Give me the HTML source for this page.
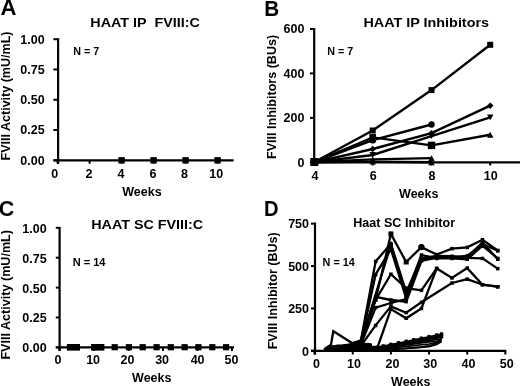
<!DOCTYPE html>
<html><head><meta charset="utf-8"><style>
html,body{margin:0;padding:0;background:#fff;width:520px;height:386px;overflow:hidden}
svg{display:block}
text{font-family:"Liberation Sans", sans-serif;font-weight:bold;fill:#000;stroke:none}
</style></head><body>
<svg style="filter:grayscale(1)" width="520" height="386" viewBox="0 0 520 386" stroke="#000" fill="#000" stroke-linecap="butt">
<text x="0.6" y="14.8" font-size="21.5" textLength="16.0" lengthAdjust="spacingAndGlyphs">A</text><text x="90.3" y="27.3" font-size="13" textLength="109.5" lengthAdjust="spacingAndGlyphs">HAAT IP&#160;&#160;FVIII:C</text><text transform="translate(10.3,160.5) rotate(-90)" font-size="12.5" textLength="129" lengthAdjust="spacingAndGlyphs">FVIII Activity (mU/mL)</text><line x1="58.1" y1="38.2" x2="58.1" y2="164.0" stroke-width="2.2"/><line x1="53.4" y1="160.3" x2="58.1" y2="160.3" stroke-width="2"/><line x1="53.4" y1="130.025" x2="58.1" y2="130.025" stroke-width="2"/><line x1="53.4" y1="99.75000000000001" x2="58.1" y2="99.75000000000001" stroke-width="2"/><line x1="53.4" y1="69.47500000000002" x2="58.1" y2="69.47500000000002" stroke-width="2"/><line x1="53.4" y1="39.20000000000002" x2="58.1" y2="39.20000000000002" stroke-width="2"/><text x="44.6" y="43.600000000000016" font-size="12.5" text-anchor="end">1.00</text><text x="44.6" y="73.87500000000003" font-size="12.5" text-anchor="end">0.75</text><text x="44.6" y="104.15000000000002" font-size="12.5" text-anchor="end">0.50</text><text x="44.6" y="134.425" font-size="12.5" text-anchor="end">0.25</text><text x="44.6" y="164.70000000000002" font-size="12.5" text-anchor="end">0.00</text><line x1="53.4" y1="160.3" x2="233.6" y2="160.3" stroke-width="2.2"/><line x1="57.6" y1="160.3" x2="57.6" y2="163.7" stroke-width="2"/><line x1="89.6" y1="160.3" x2="89.6" y2="163.7" stroke-width="2"/><line x1="121.6" y1="160.3" x2="121.6" y2="163.7" stroke-width="2"/><line x1="153.6" y1="160.3" x2="153.6" y2="163.7" stroke-width="2"/><line x1="185.6" y1="160.3" x2="185.6" y2="163.7" stroke-width="2"/><line x1="217.6" y1="160.3" x2="217.6" y2="163.7" stroke-width="2"/><text x="54.8" y="177.5" font-size="12.5" text-anchor="middle">0</text><text x="89" y="177.5" font-size="12.5" text-anchor="middle">2</text><text x="120.9" y="177.5" font-size="12.5" text-anchor="middle">4</text><text x="153.1" y="177.5" font-size="12.5" text-anchor="middle">6</text><text x="184.6" y="177.5" font-size="12.5" text-anchor="middle">8</text><text x="216.2" y="177.5" font-size="12.5" text-anchor="middle">10</text><text x="73.3" y="55.0" font-size="10" textLength="26.0" lengthAdjust="spacingAndGlyphs">N = 7</text><text x="142" y="195.8" font-size="12.5" text-anchor="middle">Weeks</text><rect x="118.4" y="157.1" width="6.4" height="6.4" stroke="none"/><rect x="150.4" y="157.1" width="6.4" height="6.4" stroke="none"/><rect x="182.4" y="157.1" width="6.4" height="6.4" stroke="none"/><rect x="214.4" y="157.1" width="6.4" height="6.4" stroke="none"/><text x="264.3" y="15.5" font-size="21.5" textLength="15.0" lengthAdjust="spacingAndGlyphs">B</text><text x="363.5" y="26.6" font-size="13" textLength="125.5" lengthAdjust="spacingAndGlyphs">HAAT IP Inhibitors</text><text transform="translate(275.6,158.9) rotate(-90)" font-size="12.5" textLength="124" lengthAdjust="spacingAndGlyphs">FVIII Inhibitors (BUs)</text><line x1="314.2" y1="28.0" x2="314.2" y2="165.5" stroke-width="2.2"/><line x1="310.0" y1="162.3" x2="314.2" y2="162.3" stroke-width="2"/><line x1="310.0" y1="117.86000000000001" x2="314.2" y2="117.86000000000001" stroke-width="2"/><line x1="310.0" y1="73.42" x2="314.2" y2="73.42" stroke-width="2"/><line x1="310.0" y1="28.980000000000018" x2="314.2" y2="28.980000000000018" stroke-width="2"/><text x="304.4" y="33.38000000000002" font-size="12.5" text-anchor="end">600</text><text x="304.4" y="77.82000000000001" font-size="12.5" text-anchor="end">400</text><text x="304.4" y="122.26000000000002" font-size="12.5" text-anchor="end">200</text><text x="304.4" y="166.70000000000002" font-size="12.5" text-anchor="end">0</text><line x1="310.0" y1="162.3" x2="520" y2="162.3" stroke-width="2.2"/><line x1="314.0" y1="162.3" x2="314.0" y2="165.5" stroke-width="2"/><line x1="372.74" y1="162.3" x2="372.74" y2="165.5" stroke-width="2"/><line x1="431.48" y1="162.3" x2="431.48" y2="165.5" stroke-width="2"/><line x1="490.22" y1="162.3" x2="490.22" y2="165.5" stroke-width="2"/><text x="315" y="180.0" font-size="12.5" text-anchor="middle">4</text><text x="373.2" y="180.0" font-size="12.5" text-anchor="middle">6</text><text x="432" y="180.0" font-size="12.5" text-anchor="middle">8</text><text x="490.8" y="180.0" font-size="12.5" text-anchor="middle">10</text><text x="327.3" y="55.0" font-size="10" textLength="26.0" lengthAdjust="spacingAndGlyphs">N = 7</text><text x="418.8" y="197.6" font-size="12.5" text-anchor="middle">Weeks</text><polyline points="314.0,162.3 372.7,130.5 431.5,90.1 490.2,44.8" fill="none" stroke-width="2.4" stroke-linejoin="miter"/><polyline points="314.0,162.3 372.7,140.1 431.5,124.5" fill="none" stroke-width="2.4" stroke-linejoin="miter"/><polyline points="314.0,162.3 372.7,137.4 431.5,145.4" fill="none" stroke-width="2.4" stroke-linejoin="miter"/><polyline points="314.0,162.3 372.7,149.0 431.5,133.2 490.2,105.6" fill="none" stroke-width="2.4" stroke-linejoin="miter"/><polyline points="314.0,162.3 372.7,155.0 431.5,136.1 490.2,117.4" fill="none" stroke-width="2.4" stroke-linejoin="miter"/><polyline points="314.0,162.3 372.7,159.4 431.5,158.1" fill="none" stroke-width="2.4" stroke-linejoin="miter"/><polyline points="314.0,162.3 372.7,161.6 431.5,162.3" fill="none" stroke-width="2.4" stroke-linejoin="miter"/><polyline points="431.5,145.4 490.2,134.7" fill="none" stroke-width="2.4" stroke-linejoin="miter"/><rect x="311.0" y="159.3" width="6" height="6" stroke="none"/><rect x="369.7" y="127.5" width="6" height="6" stroke="none"/><rect x="428.5" y="87.1" width="6" height="6" stroke="none"/><rect x="487.2" y="41.8" width="6" height="6" stroke="none"/><circle cx="314.0" cy="162.3" r="3.2" stroke="none"/><circle cx="372.7" cy="140.1" r="3.2" stroke="none"/><circle cx="431.5" cy="124.5" r="3.2" stroke="none"/><rect x="311.0" y="159.3" width="6" height="6" stroke="none"/><rect x="369.7" y="134.4" width="6" height="6" stroke="none"/><rect x="428.5" y="142.4" width="6" height="6" stroke="none"/><polygon points="314.0,159.1 317.2,162.3 314.0,165.6 310.8,162.3" stroke="none"/><polygon points="372.7,145.7 376.0,149.0 372.7,152.2 369.5,149.0" stroke="none"/><polygon points="431.5,129.9 434.7,133.2 431.5,136.4 428.2,133.2" stroke="none"/><polygon points="490.2,102.4 493.5,105.6 490.2,108.9 487.0,105.6" stroke="none"/><polygon points="310.8,159.4 317.2,159.4 314.0,165.2" stroke="none"/><polygon points="369.5,152.0 376.0,152.0 372.7,157.9" stroke="none"/><polygon points="428.2,133.2 434.7,133.2 431.5,139.0" stroke="none"/><polygon points="487.0,114.5 493.5,114.5 490.2,120.3" stroke="none"/><polygon points="310.8,165.2 317.2,165.2 314.0,159.4" stroke="none"/><polygon points="369.5,162.3 376.0,162.3 372.7,156.5" stroke="none"/><polygon points="428.2,161.0 434.7,161.0 431.5,155.2" stroke="none"/><polygon points="310.8,165.2 317.2,165.2 314.0,159.4" stroke="none"/><polygon points="369.5,164.6 376.0,164.6 372.7,158.7" stroke="none"/><polygon points="428.2,165.2 434.7,165.2 431.5,159.4" stroke="none"/><polygon points="487.0,137.7 493.5,137.7 490.2,131.8" stroke="none"/><rect x="310.3" y="158.0" width="8" height="8" stroke="none"/><rect x="427.8" y="141.7" width="7.4" height="7.4" stroke="none"/><rect x="369.4" y="134.1" width="6.6" height="6.6" stroke="none"/><circle cx="372.7" cy="140.1" r="3.5" stroke="none"/><text x="-1.2" y="215.5" font-size="21.5">C</text><text x="91.2" y="228.9" font-size="13" textLength="112" lengthAdjust="spacingAndGlyphs">HAAT SC FVIII:C</text><text transform="translate(10.1,359.6) rotate(-90)" font-size="12.5" textLength="129.6" lengthAdjust="spacingAndGlyphs">FVIII Activity (mU/mL)</text><line x1="59.6" y1="227.0" x2="59.6" y2="351.0" stroke-width="2.2"/><line x1="55.8" y1="347.4" x2="59.6" y2="347.4" stroke-width="2"/><line x1="55.8" y1="317.5" x2="59.6" y2="317.5" stroke-width="2"/><line x1="55.8" y1="287.59999999999997" x2="59.6" y2="287.59999999999997" stroke-width="2"/><line x1="55.8" y1="257.7" x2="59.6" y2="257.7" stroke-width="2"/><line x1="55.8" y1="227.79999999999998" x2="59.6" y2="227.79999999999998" stroke-width="2"/><text x="46.6" y="232.7" font-size="12.5" text-anchor="end">1.00</text><text x="46.6" y="262.59999999999997" font-size="12.5" text-anchor="end">0.75</text><text x="46.6" y="292.49999999999994" font-size="12.5" text-anchor="end">0.50</text><text x="46.6" y="322.4" font-size="12.5" text-anchor="end">0.25</text><text x="46.6" y="352.29999999999995" font-size="12.5" text-anchor="end">0.00</text><line x1="55.8" y1="347.4" x2="234" y2="347.4" stroke-width="2.2"/><line x1="59.5" y1="347.4" x2="59.5" y2="351.0" stroke-width="2"/><line x1="94.0" y1="347.4" x2="94.0" y2="351.0" stroke-width="2"/><line x1="128.5" y1="347.4" x2="128.5" y2="351.0" stroke-width="2"/><line x1="163.0" y1="347.4" x2="163.0" y2="351.0" stroke-width="2"/><line x1="197.5" y1="347.4" x2="197.5" y2="351.0" stroke-width="2"/><line x1="232.0" y1="347.4" x2="232.0" y2="351.0" stroke-width="2"/><text x="58.1" y="364.0" font-size="12.5" text-anchor="middle">0</text><text x="93.1" y="364.0" font-size="12.5" text-anchor="middle">10</text><text x="127.5" y="364.0" font-size="12.5" text-anchor="middle">20</text><text x="162.1" y="364.0" font-size="12.5" text-anchor="middle">30</text><text x="197.6" y="364.0" font-size="12.5" text-anchor="middle">40</text><text x="231.4" y="364.0" font-size="12.5" text-anchor="middle">50</text><text x="72.7" y="265.7" font-size="10.2" textLength="32.8" lengthAdjust="spacingAndGlyphs">N = 14</text><text x="151.8" y="381.8" font-size="12.5" text-anchor="middle">Weeks</text><rect x="66.9" y="344" width="13.099999999999994" height="6.6" stroke="none"/><rect x="91" y="344" width="13.400000000000006" height="6.6" stroke="none"/><rect x="111.6" y="344.1" width="6.2" height="6.2" stroke="none"/><rect x="125.8" y="344.1" width="6.2" height="6.2" stroke="none"/><rect x="139.6" y="344.1" width="6.2" height="6.2" stroke="none"/><rect x="153.5" y="344.1" width="6.2" height="6.2" stroke="none"/><rect x="167.7" y="344.1" width="6.2" height="6.2" stroke="none"/><rect x="181.5" y="344.1" width="6.2" height="6.2" stroke="none"/><rect x="195.3" y="344.1" width="6.2" height="6.2" stroke="none"/><rect x="209.2" y="344.1" width="6.2" height="6.2" stroke="none"/><rect x="223.0" y="344.1" width="6.2" height="6.2" stroke="none"/><text x="263.9" y="215.6" font-size="21.5" textLength="14.6" lengthAdjust="spacingAndGlyphs">D</text><text x="353.3" y="227.0" font-size="12.5" textLength="101.8" lengthAdjust="spacingAndGlyphs">Haat SC Inhibitor</text><text transform="translate(277.2,349.3) rotate(-90)" font-size="12.5" textLength="117" lengthAdjust="spacingAndGlyphs">FVIII Inhibitor (BUs)</text><line x1="315.0" y1="222.5" x2="315.0" y2="354.5" stroke-width="2.2"/><line x1="311.0" y1="350.83" x2="315.0" y2="350.83" stroke-width="2"/><line x1="311.0" y1="308.4475" x2="315.0" y2="308.4475" stroke-width="2"/><line x1="311.0" y1="266.065" x2="315.0" y2="266.065" stroke-width="2"/><line x1="311.0" y1="223.6825" x2="315.0" y2="223.6825" stroke-width="2"/><text x="309.0" y="228.48250000000002" font-size="12.5" text-anchor="end">750</text><text x="309.0" y="270.865" font-size="12.5" text-anchor="end">500</text><text x="309.0" y="313.2475" font-size="12.5" text-anchor="end">250</text><text x="309.0" y="355.63" font-size="12.5" text-anchor="end">0</text><line x1="311.0" y1="350.8" x2="506.2" y2="350.8" stroke-width="2.2"/><line x1="314.6" y1="350.8" x2="314.6" y2="354.5" stroke-width="2"/><line x1="352.75" y1="350.8" x2="352.75" y2="354.5" stroke-width="2"/><line x1="390.90000000000003" y1="350.8" x2="390.90000000000003" y2="354.5" stroke-width="2"/><line x1="429.05" y1="350.8" x2="429.05" y2="354.5" stroke-width="2"/><line x1="467.20000000000005" y1="350.8" x2="467.20000000000005" y2="354.5" stroke-width="2"/><line x1="505.35" y1="350.8" x2="505.35" y2="354.5" stroke-width="2"/><text x="316.5" y="368.0" font-size="12.5" text-anchor="middle">0</text><text x="354" y="368.0" font-size="12.5" text-anchor="middle">10</text><text x="392.4" y="368.0" font-size="12.5" text-anchor="middle">20</text><text x="430.2" y="368.0" font-size="12.5" text-anchor="middle">30</text><text x="468.5" y="368.0" font-size="12.5" text-anchor="middle">40</text><text x="506.8" y="368.0" font-size="12.5" text-anchor="middle">50</text><text x="322.6" y="265.5" font-size="10.2" textLength="32.3" lengthAdjust="spacingAndGlyphs">N = 14</text><text x="410.8" y="386.4" font-size="12.5" text-anchor="middle">Weeks</text><polyline points="324.1,350.8 337.5,349.1 352.8,346.6 360.4,344.0 375.6,300.0 390.9,234.0 406.2,262.0 421.4,247.1 436.7,254.5 451.9,248.6 467.2,247.4 482.5,239.8 497.7,250.5" fill="none" stroke-width="2.3" stroke-linejoin="miter"/><polyline points="324.1,350.8 337.5,348.3 352.8,345.7 360.4,343.2 375.6,261.5 390.9,243.7 406.2,292.3 421.4,258.4 436.7,255.9 451.9,256.2 467.2,257.6 482.5,242.3 497.7,259.3" fill="none" stroke-width="2.3" stroke-linejoin="miter"/><polyline points="324.1,350.8 337.5,347.4 352.8,344.9 360.4,344.0 390.9,244.7 406.2,294.9 421.4,255.0 436.7,258.4 451.9,258.4 467.2,259.3 482.5,245.7 497.7,258.4" fill="none" stroke-width="2.3" stroke-linejoin="miter"/><polyline points="324.1,349.1 331.0,344.6 333.3,331.2 352.4,343.2 360.4,340.7 375.6,300.0 390.9,274.2 406.2,288.1 421.4,290.3 436.7,268.4 451.9,277.9 467.2,268.1 482.5,284.7 497.7,286.7" fill="none" stroke-width="2.3" stroke-linejoin="miter"/><polyline points="324.1,350.8 337.5,347.4 352.8,345.7 360.4,346.6 375.6,325.4 390.9,306.4 406.2,312.7 421.4,302.3 451.9,283.0 467.2,279.1 482.5,284.7 497.7,286.7" fill="none" stroke-width="2.3" stroke-linejoin="miter"/><polyline points="324.1,350.8 337.5,350.0 352.8,347.4 360.4,345.7 377.5,347.4 390.9,309.1 406.2,318.3 421.4,308.4 436.7,268.4" fill="none" stroke-width="2.3" stroke-linejoin="miter"/><polyline points="324.1,350.8 337.5,346.6 352.8,344.0 360.4,342.4 375.6,296.9 390.9,300.0 406.2,301.7 421.4,261.0 436.7,257.6 451.9,257.2 467.2,255.9 482.5,244.0 497.7,250.8" fill="none" stroke-width="2.3" stroke-linejoin="miter"/><polyline points="324.1,350.8 337.5,346.6 352.8,347.4 360.4,345.7 375.6,307.6 390.9,303.0 406.2,299.1" fill="none" stroke-width="2.3" stroke-linejoin="miter"/><polyline points="324.1,350.8 337.5,345.7 352.8,347.4 360.4,344.9 375.6,274.5 390.9,249.1 406.2,298.3 421.4,259.3 436.7,257.9 451.9,257.6 467.2,257.9 482.5,258.4 497.7,268.6" fill="none" stroke-width="2.3" stroke-linejoin="miter"/><polygon points="323.5,351 326,348.6 331,345.2 346,344.2 358,343.2 368,342.8 372,343.5 372,351" stroke="none"/><polyline points="360.4,350.8 368.0,349.3 375.6,347.7 383.3,346.2 390.9,344.6 398.5,343.0 406.2,341.5 413.8,339.9 421.4,338.4 429.1,336.8 436.7,335.2 441.6,334.2" fill="none" stroke-width="1.7" stroke-linejoin="miter"/><polyline points="360.4,350.8 368.0,349.4 375.6,348.0 383.3,346.6 390.9,345.2 398.5,343.7 406.2,342.3 413.8,340.9 421.4,339.5 429.1,338.1 436.7,336.7 441.6,335.7" fill="none" stroke-width="1.7" stroke-linejoin="miter"/><polyline points="360.4,350.8 368.0,349.6 375.6,348.3 383.3,347.0 390.9,345.7 398.5,344.5 406.2,343.2 413.8,341.9 421.4,340.6 429.1,339.4 436.7,338.1 441.6,337.3" fill="none" stroke-width="1.7" stroke-linejoin="miter"/><polyline points="360.4,350.8 368.0,349.7 375.6,348.6 383.3,347.4 390.9,346.3 398.5,345.2 406.2,344.0 413.8,342.9 421.4,341.8 429.1,340.7 436.7,339.5 441.6,338.8" fill="none" stroke-width="1.7" stroke-linejoin="miter"/><polyline points="360.4,350.8 368.0,349.8 375.6,348.9 383.3,347.9 390.9,346.9 398.5,345.9 406.2,344.9 413.8,343.9 421.4,342.9 429.1,341.9 436.7,341.0 441.6,340.3" fill="none" stroke-width="1.7" stroke-linejoin="miter"/><polyline points="360.4,350.8 375.6,350.0 390.9,349.1 406.2,348.3 421.4,347.1 429.1,345.7 436.7,343.2 441.6,340.3" fill="none" stroke-width="1.7" stroke-linejoin="miter"/><polyline points="368.0,350.8 383.3,349.8 398.5,348.8 413.8,347.8 429.1,346.6 436.7,344.4 441.6,341.5" fill="none" stroke-width="1.7" stroke-linejoin="miter"/><polyline points="360.4,350.8 383.3,348.8 398.5,347.1 413.8,345.7 429.1,344.0 436.7,342.4 441.6,339.6" fill="none" stroke-width="1.7" stroke-linejoin="miter"/><rect x="366.4" y="347.4" width="3.2" height="3.2" stroke="none"/><rect x="374.0" y="345.8" width="3.2" height="3.2" stroke="none"/><rect x="381.7" y="344.3" width="3.2" height="3.2" stroke="none"/><rect x="389.3" y="342.7" width="3.2" height="3.2" stroke="none"/><rect x="396.9" y="341.1" width="3.2" height="3.2" stroke="none"/><rect x="404.6" y="339.6" width="3.2" height="3.2" stroke="none"/><rect x="412.2" y="338.0" width="3.2" height="3.2" stroke="none"/><rect x="419.8" y="336.5" width="3.2" height="3.2" stroke="none"/><rect x="427.4" y="334.9" width="3.2" height="3.2" stroke="none"/><rect x="435.1" y="333.3" width="3.2" height="3.2" stroke="none"/><rect x="440.0" y="332.3" width="3.2" height="3.2" stroke="none"/><rect x="366.4" y="347.5" width="3.2" height="3.2" stroke="none"/><rect x="374.0" y="346.1" width="3.2" height="3.2" stroke="none"/><rect x="381.7" y="344.7" width="3.2" height="3.2" stroke="none"/><rect x="389.3" y="343.3" width="3.2" height="3.2" stroke="none"/><rect x="396.9" y="341.8" width="3.2" height="3.2" stroke="none"/><rect x="404.6" y="340.4" width="3.2" height="3.2" stroke="none"/><rect x="412.2" y="339.0" width="3.2" height="3.2" stroke="none"/><rect x="419.8" y="337.6" width="3.2" height="3.2" stroke="none"/><rect x="427.4" y="336.2" width="3.2" height="3.2" stroke="none"/><rect x="435.1" y="334.8" width="3.2" height="3.2" stroke="none"/><rect x="440.0" y="333.8" width="3.2" height="3.2" stroke="none"/><rect x="366.4" y="347.7" width="3.2" height="3.2" stroke="none"/><rect x="374.0" y="346.4" width="3.2" height="3.2" stroke="none"/><rect x="381.7" y="345.1" width="3.2" height="3.2" stroke="none"/><rect x="389.3" y="343.8" width="3.2" height="3.2" stroke="none"/><rect x="396.9" y="342.6" width="3.2" height="3.2" stroke="none"/><rect x="404.6" y="341.3" width="3.2" height="3.2" stroke="none"/><rect x="412.2" y="340.0" width="3.2" height="3.2" stroke="none"/><rect x="419.8" y="338.7" width="3.2" height="3.2" stroke="none"/><rect x="427.4" y="337.5" width="3.2" height="3.2" stroke="none"/><rect x="435.1" y="336.2" width="3.2" height="3.2" stroke="none"/><rect x="440.0" y="335.4" width="3.2" height="3.2" stroke="none"/><rect x="373.9" y="298.2" width="3.5" height="3.5" stroke="none"/><rect x="389.2" y="232.3" width="3.5" height="3.5" stroke="none"/><rect x="404.4" y="260.2" width="3.5" height="3.5" stroke="none"/><rect x="419.7" y="245.3" width="3.5" height="3.5" stroke="none"/><rect x="434.9" y="252.8" width="3.5" height="3.5" stroke="none"/><rect x="450.2" y="246.9" width="3.5" height="3.5" stroke="none"/><rect x="465.5" y="245.7" width="3.5" height="3.5" stroke="none"/><rect x="480.7" y="238.0" width="3.5" height="3.5" stroke="none"/><rect x="496.0" y="248.7" width="3.5" height="3.5" stroke="none"/><rect x="373.9" y="259.7" width="3.5" height="3.5" stroke="none"/><rect x="389.2" y="241.9" width="3.5" height="3.5" stroke="none"/><rect x="404.4" y="290.6" width="3.5" height="3.5" stroke="none"/><rect x="419.7" y="256.7" width="3.5" height="3.5" stroke="none"/><rect x="434.9" y="254.1" width="3.5" height="3.5" stroke="none"/><rect x="450.2" y="254.5" width="3.5" height="3.5" stroke="none"/><rect x="465.5" y="255.8" width="3.5" height="3.5" stroke="none"/><rect x="480.7" y="240.6" width="3.5" height="3.5" stroke="none"/><rect x="496.0" y="257.5" width="3.5" height="3.5" stroke="none"/><rect x="389.2" y="243.0" width="3.5" height="3.5" stroke="none"/><rect x="404.4" y="293.1" width="3.5" height="3.5" stroke="none"/><rect x="419.7" y="253.3" width="3.5" height="3.5" stroke="none"/><rect x="434.9" y="256.7" width="3.5" height="3.5" stroke="none"/><rect x="450.2" y="256.7" width="3.5" height="3.5" stroke="none"/><rect x="465.5" y="257.5" width="3.5" height="3.5" stroke="none"/><rect x="480.7" y="244.0" width="3.5" height="3.5" stroke="none"/><rect x="496.0" y="256.7" width="3.5" height="3.5" stroke="none"/><rect x="373.9" y="298.2" width="3.5" height="3.5" stroke="none"/><rect x="389.2" y="272.5" width="3.5" height="3.5" stroke="none"/><rect x="404.4" y="286.4" width="3.5" height="3.5" stroke="none"/><rect x="419.7" y="288.6" width="3.5" height="3.5" stroke="none"/><rect x="434.9" y="266.7" width="3.5" height="3.5" stroke="none"/><rect x="450.2" y="276.2" width="3.5" height="3.5" stroke="none"/><rect x="465.5" y="266.3" width="3.5" height="3.5" stroke="none"/><rect x="480.7" y="283.0" width="3.5" height="3.5" stroke="none"/><rect x="496.0" y="285.0" width="3.5" height="3.5" stroke="none"/><rect x="373.9" y="323.7" width="3.5" height="3.5" stroke="none"/><rect x="389.2" y="304.7" width="3.5" height="3.5" stroke="none"/><rect x="404.4" y="310.9" width="3.5" height="3.5" stroke="none"/><rect x="419.7" y="300.6" width="3.5" height="3.5" stroke="none"/><rect x="450.2" y="281.3" width="3.5" height="3.5" stroke="none"/><rect x="465.5" y="277.4" width="3.5" height="3.5" stroke="none"/><rect x="480.7" y="283.0" width="3.5" height="3.5" stroke="none"/><rect x="496.0" y="285.0" width="3.5" height="3.5" stroke="none"/><rect x="375.8" y="345.7" width="3.5" height="3.5" stroke="none"/><rect x="389.2" y="307.4" width="3.5" height="3.5" stroke="none"/><rect x="404.4" y="316.5" width="3.5" height="3.5" stroke="none"/><rect x="419.7" y="306.7" width="3.5" height="3.5" stroke="none"/><rect x="434.9" y="266.7" width="3.5" height="3.5" stroke="none"/><rect x="373.9" y="295.2" width="3.5" height="3.5" stroke="none"/><rect x="389.2" y="298.2" width="3.5" height="3.5" stroke="none"/><rect x="404.4" y="299.9" width="3.5" height="3.5" stroke="none"/><rect x="419.7" y="259.2" width="3.5" height="3.5" stroke="none"/><rect x="434.9" y="255.8" width="3.5" height="3.5" stroke="none"/><rect x="450.2" y="255.5" width="3.5" height="3.5" stroke="none"/><rect x="465.5" y="254.1" width="3.5" height="3.5" stroke="none"/><rect x="480.7" y="242.3" width="3.5" height="3.5" stroke="none"/><rect x="496.0" y="249.1" width="3.5" height="3.5" stroke="none"/><rect x="373.9" y="305.8" width="3.5" height="3.5" stroke="none"/><rect x="389.2" y="301.3" width="3.5" height="3.5" stroke="none"/><rect x="404.4" y="297.4" width="3.5" height="3.5" stroke="none"/><rect x="373.9" y="272.8" width="3.5" height="3.5" stroke="none"/><rect x="389.2" y="247.4" width="3.5" height="3.5" stroke="none"/><rect x="404.4" y="296.5" width="3.5" height="3.5" stroke="none"/><rect x="419.7" y="257.5" width="3.5" height="3.5" stroke="none"/><rect x="434.9" y="256.2" width="3.5" height="3.5" stroke="none"/><rect x="450.2" y="255.8" width="3.5" height="3.5" stroke="none"/><rect x="465.5" y="256.2" width="3.5" height="3.5" stroke="none"/><rect x="480.7" y="256.7" width="3.5" height="3.5" stroke="none"/><rect x="496.0" y="266.9" width="3.5" height="3.5" stroke="none"/><rect x="388.4" y="231.5" width="5" height="5" stroke="none"/><rect x="403.7" y="259.5" width="5" height="5" stroke="none"/><circle cx="421.4" cy="247.1" r="3.2" stroke="none"/>
</svg>
</body></html>
